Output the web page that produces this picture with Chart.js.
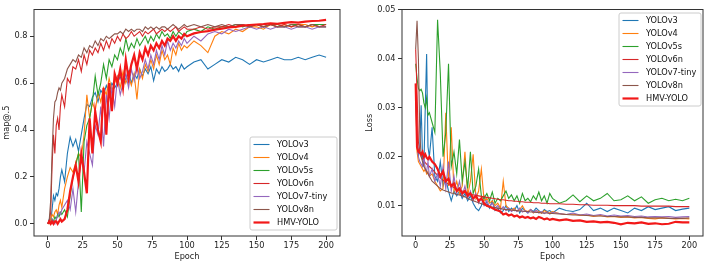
<!DOCTYPE html>
<html>
<head>
<meta charset="utf-8">
<script src="https://cdn.jsdelivr.net/npm/chart.js@4.4.1/dist/chart.umd.min.js"></script>
<style>
    body { margin: 0; background: #fff; }
    #wrap { position: relative; width: 713px; height: 267px; }
    #wrap canvas { position: absolute; top: 0; }
</style>
</head>
<body>
<div id="wrap">
    <canvas id="chart-map" width="355" height="267" style="left:0"></canvas>
    <canvas id="chart-loss" width="355" height="267" style="left:358px"></canvas>
</div>
<script>
/* ---------- data ---------- */
const epochs = [
    0,1,2,3,4,5,6,7,8,9,10,
    12,14,16,18,20,22,24,26,28,30,
    32,34,36,38,40,42,44,46,48,50,
    52,54,56,58,60,62,64,66,68,70,
    72,74,76,78,80,82,84,86,88,90,
    92,94,96,98,100,
    105,110,115,120,125,130,135,140,145,150,
    155,160,165,170,175,180,185,190,195,200
];
const seriesNames = ['YOLOv3', 'YOLOv4', 'YOLOv5s', 'YOLOv6n', 'YOLOv7-tiny', 'YOLOv8n', 'HMV-YOLO'];
const epochTicks = [0, 25, 50, 75, 100, 125, 150, 175, 200];
const mapTicks = [0, 0.2, 0.4, 0.6, 0.8];
const lossTicks = [0.01, 0.02, 0.03, 0.04, 0.05];

// map@.5
const mapV3 = [
    0.00,0.02,0.01,0.06,0.12,0.10,0.13,0.12,0.15,0.20,0.23,
    0.18,0.30,0.37,0.33,0.36,0.31,0.38,0.45,0.51,0.50,
    0.54,0.56,0.52,0.57,0.55,0.59,0.56,0.60,0.58,0.60,
    0.63,0.59,0.62,0.65,0.60,0.64,0.62,0.66,0.63,0.66,
    0.64,0.67,0.61,0.66,0.64,0.67,0.65,0.66,0.68,0.66,
    0.67,0.65,0.68,0.66,0.67,
    0.69,0.70,0.66,0.68,0.70,0.69,0.71,0.70,0.68,0.70,
    0.69,0.70,0.71,0.70,0.70,0.71,0.70,0.71,0.72,0.71
];
const mapV4 = [
    0.00,0.00,0.02,0.04,0.03,0.05,0.06,0.04,0.08,0.10,0.07,
    0.15,0.20,0.24,0.22,0.26,0.30,0.28,0.38,0.55,0.45,
    0.52,0.48,0.56,0.52,0.58,0.55,0.62,0.57,0.60,0.63,
    0.58,0.65,0.60,0.63,0.59,0.64,0.53,0.66,0.62,0.68,
    0.65,0.70,0.66,0.72,0.68,0.74,0.70,0.72,0.68,0.75,
    0.72,0.77,0.74,0.76,0.75,
    0.78,0.76,0.73,0.80,0.82,0.81,0.83,0.82,0.84,0.84,
    0.83,0.85,0.84,0.85,0.84,0.85,0.85,0.84,0.85,0.85
];
const mapV5s = [
    0.00,0.01,0.00,0.02,0.01,0.03,0.02,0.04,0.03,0.05,0.04,
    0.06,0.03,0.12,0.20,0.25,0.30,0.05,0.35,0.42,0.45,
    0.52,0.63,0.55,0.60,0.68,0.62,0.70,0.67,0.72,0.70,
    0.75,0.72,0.79,0.74,0.77,0.75,0.79,0.76,0.78,0.80,
    0.77,0.80,0.78,0.81,0.79,0.82,0.80,0.81,0.79,0.82,
    0.80,0.82,0.81,0.80,0.82,
    0.83,0.82,0.84,0.83,0.84,0.84,0.85,0.84,0.85,0.85,
    0.84,0.85,0.85,0.84,0.85,0.85,0.84,0.85,0.85,0.85
];
const mapV6n = [
    0.00,0.01,0.05,0.25,0.38,0.30,0.42,0.45,0.40,0.50,0.55,
    0.50,0.62,0.60,0.67,0.66,0.70,0.65,0.72,0.68,0.74,
    0.72,0.75,0.73,0.77,0.74,0.78,0.75,0.79,0.77,0.80,
    0.78,0.81,0.79,0.80,0.82,0.80,0.81,0.82,0.80,0.82,
    0.81,0.82,0.83,0.81,0.82,0.83,0.82,0.83,0.82,0.83,
    0.84,0.82,0.83,0.84,0.83,
    0.83,0.84,0.83,0.84,0.84,0.85,0.84,0.85,0.84,0.85,
    0.84,0.85,0.84,0.85,0.84,0.85,0.84,0.85,0.84,0.85
];
const mapV7tiny = [
    0.00,0.01,0.00,0.02,0.01,0.00,0.02,0.03,0.05,0.04,0.06,
    0.08,0.10,0.06,0.15,0.05,0.18,0.28,0.22,0.35,0.30,
    0.25,0.42,0.38,0.50,0.33,0.55,0.45,0.58,0.50,0.62,
    0.55,0.60,0.64,0.58,0.66,0.61,0.68,0.62,0.65,0.70,
    0.66,0.72,0.68,0.74,0.70,0.76,0.72,0.78,0.74,0.77,
    0.75,0.78,0.76,0.79,0.77,
    0.80,0.78,0.81,0.82,0.81,0.83,0.82,0.83,0.84,0.83,
    0.84,0.83,0.84,0.84,0.83,0.84,0.84,0.83,0.84,0.84
];
const mapV8n = [
    0.00,0.02,0.10,0.30,0.45,0.52,0.53,0.56,0.58,0.57,0.60,
    0.62,0.66,0.68,0.70,0.69,0.72,0.71,0.75,0.73,0.76,
    0.75,0.78,0.76,0.79,0.78,0.80,0.79,0.80,0.81,0.81,
    0.82,0.81,0.83,0.82,0.83,0.82,0.83,0.83,0.82,0.84,
    0.83,0.84,0.83,0.84,0.83,0.84,0.84,0.83,0.84,0.85,
    0.84,0.83,0.84,0.85,0.84,
    0.85,0.84,0.85,0.84,0.85,0.84,0.85,0.85,0.84,0.85,
    0.84,0.85,0.84,0.84,0.85,0.84,0.84,0.85,0.84,0.84
];
const mapHmv = [
    0.00,0.01,0.00,0.01,0.00,0.01,0.01,0.00,0.01,0.02,0.01,
    0.02,0.06,0.14,0.20,0.25,0.18,0.30,0.22,0.13,0.45,
    0.30,0.48,0.40,0.35,0.58,0.38,0.60,0.48,0.64,0.60,
    0.66,0.58,0.70,0.62,0.68,0.72,0.66,0.73,0.70,0.75,
    0.72,0.76,0.74,0.77,0.75,0.78,0.76,0.79,0.78,0.80,
    0.78,0.80,0.79,0.81,0.80,
    0.812,0.818,0.822,0.828,0.832,0.838,0.840,0.845,0.848,0.850,
    0.852,0.855,0.853,0.857,0.860,0.858,0.862,0.865,0.866,0.870
];

// Loss
const lossV3 = [
    0.0330,0.0250,0.0200,0.0220,0.0305,0.0200,0.0180,0.0300,0.0410,0.0220,0.0200,
    0.0260,0.0160,0.0150,0.0190,0.0140,0.0155,0.0130,0.0110,0.0130,0.0120,
    0.0130,0.0115,0.0125,0.0110,0.0120,0.0105,0.0095,0.0090,0.0100,0.0120,
    0.0105,0.0095,0.0110,0.0090,0.0095,0.0085,0.0090,0.0100,0.0088,0.0095,
    0.0090,0.0100,0.0085,0.0095,0.0090,0.0085,0.0092,0.0088,0.0095,0.0090,
    0.0085,0.0092,0.0088,0.0090,0.0085,
    0.0095,0.0090,0.0088,0.0092,0.0105,0.0090,0.0095,0.0088,0.0095,0.0090,
    0.0085,0.0095,0.0090,0.0098,0.0092,0.0095,0.0098,0.0090,0.0093,0.0095
];
const lossV4 = [
    0.0340,0.0210,0.0190,0.0185,0.0180,0.0175,0.0170,0.0175,0.0165,0.0170,0.0160,
    0.0165,0.0150,0.0140,0.0130,0.0135,0.0290,0.0140,0.0260,0.0130,0.0150,
    0.0125,0.0140,0.0210,0.0120,0.0150,0.0205,0.0115,0.0130,0.0175,0.0110,
    0.0115,0.0105,0.0110,0.0100,0.0105,0.0095,0.0150,0.0100,0.0095,0.0090,
    0.0095,0.0088,0.0092,0.0100,0.0090,0.0088,0.0092,0.0085,0.0090,0.0088,
    0.0085,0.0090,0.0087,0.0085,0.0088,
    0.0084,0.0082,0.0083,0.0080,0.0081,0.0078,0.0080,0.0077,0.0078,0.0076,
    0.0077,0.0075,0.0076,0.0074,0.0073,0.0075,0.0074,0.0073,0.0074,0.0073
];
const lossV5s = [
    0.0390,0.0360,0.0340,0.0335,0.0338,0.0330,0.0310,0.0300,0.0320,0.0285,0.0290,
    0.0270,0.0250,0.0480,0.0370,0.0200,0.0250,0.0390,0.0180,0.0210,0.0165,
    0.0235,0.0150,0.0190,0.0135,0.0210,0.0125,0.0140,0.0175,0.0120,0.0115,
    0.0125,0.0110,0.0128,0.0105,0.0115,0.0110,0.0120,0.0130,0.0115,0.0122,
    0.0110,0.0120,0.0105,0.0125,0.0110,0.0115,0.0108,0.0120,0.0112,0.0128,
    0.0110,0.0120,0.0105,0.0125,0.0115,
    0.0105,0.0110,0.0122,0.0108,0.0120,0.0110,0.0115,0.0125,0.0110,0.0112,
    0.0120,0.0110,0.0118,0.0105,0.0112,0.0115,0.0110,0.0113,0.0110,0.0115
];
const lossV6n = [
    0.0420,0.0330,0.0230,0.0210,0.0200,0.0195,0.0192,0.0188,0.0185,0.0182,0.0180,
    0.0175,0.0168,0.0162,0.0157,0.0152,0.0148,0.0144,0.0140,0.0137,0.0134,
    0.0132,0.0130,0.0128,0.0126,0.0124,0.0122,0.0121,0.0120,0.0119,0.0118,
    0.0117,0.0116,0.0115,0.0114,0.0113,0.0112,0.0112,0.0111,0.0110,0.0110,
    0.0109,0.0109,0.0108,0.0108,0.0107,0.0107,0.0107,0.0106,0.0106,0.0106,
    0.0105,0.0105,0.0105,0.0104,0.0104,
    0.0104,0.0103,0.0103,0.0102,0.0102,0.0101,0.0101,0.0101,0.0100,0.0100,
    0.0100,0.0100,0.0099,0.0099,0.0099,0.0099,0.0099,0.0098,0.0098,0.0098
];
const lossV7tiny = [
    0.0330,0.0220,0.0200,0.0190,0.0185,0.0180,0.0200,0.0175,0.0170,0.0190,0.0160,
    0.0175,0.0150,0.0165,0.0140,0.0180,0.0135,0.0190,0.0130,0.0160,0.0125,
    0.0150,0.0120,0.0140,0.0115,0.0130,0.0110,0.0125,0.0105,0.0115,0.0100,
    0.0110,0.0098,0.0105,0.0095,0.0100,0.0092,0.0098,0.0090,0.0095,0.0088,
    0.0092,0.0088,0.0095,0.0087,0.0090,0.0085,0.0092,0.0086,0.0090,0.0085,
    0.0088,0.0084,0.0087,0.0083,0.0086,
    0.0084,0.0082,0.0085,0.0081,0.0083,0.0080,0.0082,0.0079,0.0081,0.0079,
    0.0080,0.0078,0.0079,0.0077,0.0078,0.0077,0.0078,0.0076,0.0077,0.0078
];
const lossV8n = [
    0.0420,0.0478,0.0400,0.0250,0.0200,0.0190,0.0180,0.0175,0.0170,0.0165,0.0160,
    0.0150,0.0145,0.0140,0.0135,0.0132,0.0130,0.0128,0.0126,0.0125,0.0123,
    0.0122,0.0120,0.0118,0.0115,0.0112,0.0110,0.0108,0.0106,0.0104,0.0102,
    0.0100,0.0098,0.0097,0.0096,0.0095,0.0094,0.0093,0.0092,0.0092,0.0091,
    0.0090,0.0090,0.0089,0.0089,0.0088,0.0088,0.0087,0.0087,0.0086,0.0086,
    0.0085,0.0085,0.0085,0.0084,0.0084,
    0.0083,0.0082,0.0081,0.0081,0.0080,0.0079,0.0079,0.0078,0.0078,0.0077,
    0.0077,0.0076,0.0076,0.0075,0.0075,0.0075,0.0074,0.0074,0.0074,0.0075
];
const lossHmv = [
    0.0350,0.0220,0.0210,0.0208,0.0205,0.0210,0.0200,0.0205,0.0198,0.0195,0.0200,
    0.0190,0.0185,0.0175,0.0160,0.0170,0.0150,0.0155,0.0140,0.0145,0.0130,
    0.0135,0.0125,0.0130,0.0120,0.0125,0.0115,0.0120,0.0110,0.0115,0.0105,
    0.0100,0.0098,0.0095,0.0092,0.0090,0.0088,0.0082,0.0084,0.0080,0.0082,
    0.0078,0.0080,0.0076,0.0078,0.0075,0.0077,0.0074,0.0076,0.0073,0.0077,
    0.0075,0.0072,0.0074,0.0071,0.0073,
    0.0070,0.0072,0.0069,0.0070,0.0067,0.0068,0.0066,0.0067,0.0065,0.0062,
    0.0065,0.0064,0.0066,0.0063,0.0064,0.0062,0.0063,0.0067,0.0066,0.0066
];

/* ---------- styles ---------- */
const colors = ['#1f77b4', '#ff7f0e', '#2ca02c', '#d62728', '#9467bd', '#8c564b', '#f21818'];
const widths = [1.1, 1.1, 1.1, 1.1, 1.1, 1.1, 2.2];
const FONT = 'DejaVu Sans';
const FS = 8.2;

Chart.defaults.font.family = FONT;
Chart.defaults.font.size = FS;
Chart.defaults.color = '#222';

function buildDatasets(seriesList) {
    return seriesList.map((vals, i) => ({
        label: seriesNames[i],
        data: epochs.map((e, j) => ({ x: e, y: vals[j] })),
        borderColor: colors[i],
        backgroundColor: colors[i],
        borderWidth: widths[i],
        pointRadius: 0,
        tension: 0,
        fill: false,
        order: seriesList.length - i   // HMV on top, like matplotlib
    }));
}

// matplotlib-like frame + inner legend
const mplPlugin = {
    id: 'mpl',
    afterDraw(chart, args, opts) {
        const { ctx, chartArea: a } = chart;
        ctx.save();
        ctx.strokeStyle = '#333';
        ctx.lineWidth = 1;
        ctx.strokeRect(a.left, a.top, a.right - a.left, a.bottom - a.top);

        const b = opts.box;
        const r = 2;
        ctx.beginPath();
        ctx.moveTo(b.x + r, b.y);
        ctx.arcTo(b.x + b.w, b.y, b.x + b.w, b.y + b.h, r);
        ctx.arcTo(b.x + b.w, b.y + b.h, b.x, b.y + b.h, r);
        ctx.arcTo(b.x, b.y + b.h, b.x, b.y, r);
        ctx.arcTo(b.x, b.y, b.x + b.w, b.y, r);
        ctx.closePath();
        ctx.fillStyle = 'rgba(255,255,255,0.85)';
        ctx.fill();
        ctx.strokeStyle = '#cccccc';
        ctx.stroke();

        ctx.font = FS + 'px "' + FONT + '"';
        ctx.textBaseline = 'middle';
        ctx.textAlign = 'left';
        chart.data.datasets.forEach((ds, i) => {
            const y = b.y + 7.5 + i * 13;
            ctx.strokeStyle = ds.borderColor;
            ctx.lineWidth = ds.borderWidth;
            ctx.beginPath();
            ctx.moveTo(b.x + 3.5, y);
            ctx.lineTo(b.x + 19.5, y);
            ctx.stroke();
            ctx.fillStyle = '#111';
            ctx.fillText(ds.label, b.x + 27, y);
        });
        ctx.restore();
    }
};

function scales(cfg) {
    const tickGrid = { drawOnChartArea: false, drawTicks: true, tickLength: 4, tickColor: '#333', tickWidth: 1 };
    return {
        x: {
            type: 'linear', min: -10, max: 210,
            afterBuildTicks: s => { s.ticks = epochTicks.map(v => ({ value: v })); },
            afterFit: s => { s.height = 31; },
            grid: tickGrid,
            border: { display: false },
            ticks: { padding: 1, maxRotation: 0, autoSkip: false, callback: v => String(v) },
            title: { display: true, text: 'Epoch', padding: { top: 0, bottom: 4.8 } }
        },
        y: {
            type: 'linear', min: cfg.min, max: cfg.max,
            afterBuildTicks: s => { s.ticks = cfg.ticks.map(v => ({ value: v })); },
            afterFit: s => { s.width = cfg.width; },
            grid: tickGrid,
            border: { display: false },
            ticks: { padding: 2.5, autoSkip: false, callback: v => v.toFixed(cfg.digits) },
            title: { display: true, text: cfg.title, padding: { top: cfg.titlePad, bottom: 0 } }
        }
    };
}

function makeChart(id, seriesList, axisCfg, padRight, legendBox) {
    return new Chart(document.getElementById(id), {
        type: 'line',
        data: { datasets: buildDatasets(seriesList) },
        options: {
            responsive: false,
            animation: false,
            devicePixelRatio: 1,
            layout: { padding: { left: 0, right: padRight, top: 9.5, bottom: 0 } },
            plugins: { legend: { display: false }, tooltip: { enabled: false }, mpl: { box: legendBox } },
            scales: scales(axisCfg)
        },
        plugins: [mplPlugin]
    });
}

makeChart('chart-map',
    [mapV3, mapV4, mapV5s, mapV6n, mapV7tiny, mapV8n, mapHmv],
    { min: -0.052, max: 0.914, ticks: mapTicks, digits: 1, title: 'map@.5', width: 34, titlePad: 1.8 },
    15, { x: 250, y: 137, w: 87, h: 93 });

makeChart('chart-loss',
    [lossV3, lossV4, lossV5s, lossV6n, lossV7tiny, lossV8n, lossHmv],
    { min: 0.0038, max: 0.0501, ticks: lossTicks, digits: 2, title: 'Loss', width: 44, titlePad: 7 },
    10, { x: 261, y: 13, w: 82, h: 93 });
</script>
</body>
</html>
